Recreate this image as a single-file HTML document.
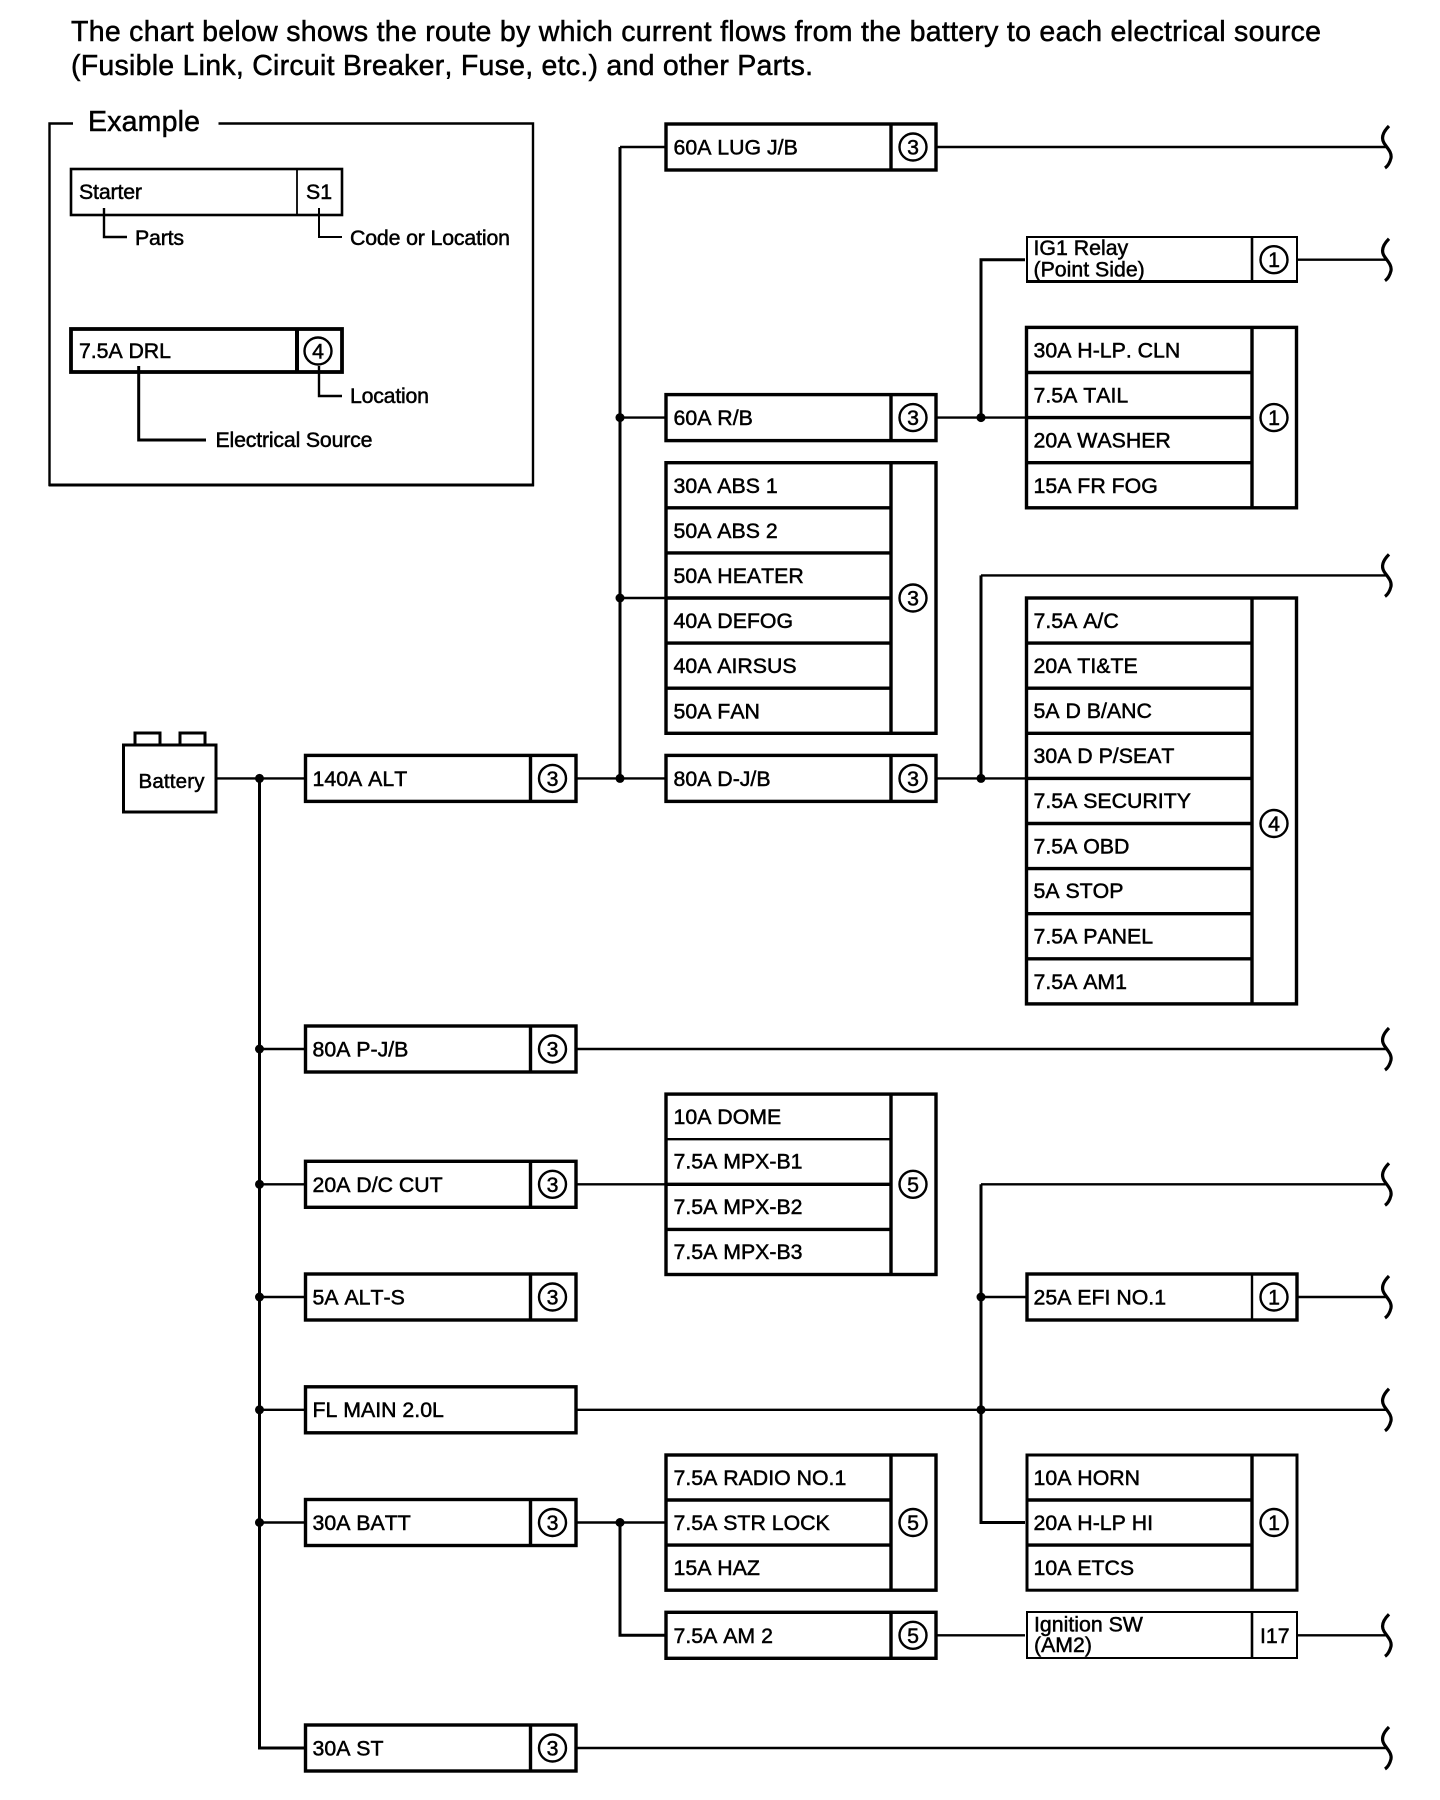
<!DOCTYPE html>
<html><head><meta charset="utf-8"><title>Power source chart</title>
<style>
html,body{margin:0;padding:0;background:#fff}
svg{display:block}
text{font-family:"Liberation Sans",Arial,sans-serif;font-size:21.3px;font-kerning:none;fill:#000;stroke:#000;stroke-width:.5}
.b{fill:#fff;stroke:#000;stroke-width:3.4}
.l{stroke:#000;stroke-width:2.4;fill:none}
.t{stroke:#000;stroke-width:3.4;fill:none}
.c{fill:#fff;stroke:#000;stroke-width:2.4}
.n{text-anchor:middle}
</style></head><body>
<svg width="1440" height="1800" viewBox="0 0 1440 1800" xmlns="http://www.w3.org/2000/svg">
<defs><path id="w" d="M1389,-21 C1383,-15 1381,-9 1384,-4 C1387,1 1392,5 1391,11 C1390,15 1388,19 1385,21" fill="none" stroke="#000" stroke-width="3.2"/></defs>
<rect width="1440" height="1800" fill="#fff"/>

<text x="71" y="41" style="font-size:28.5px" textLength="1250">The chart below shows the route by which current flows from the battery to each electrical source</text>
<text x="71" y="75" style="font-size:28.5px" textLength="742">(Fusible Link, Circuit Breaker, Fuse, etc.) and other Parts.</text>

<!-- Example -->
<path class="l" d="M73,123.5 H49.5 V485 H533 V123.5 H218.5"/>
<path d="M49,485 H534" stroke="#000" stroke-width="3"/>
<text x="88" y="131" style="font-size:28.5px" textLength="112">Example</text>
<rect x="71" y="169" width="271" height="46" fill="#fff" stroke="#000" stroke-width="2.6"/>
<path d="M297,169 V215" stroke="#000" stroke-width="1.8"/>
<text x="79" y="199" textLength="63">Starter</text>
<text x="306" y="199">S1</text>
<path class="l" d="M104,208 V237 H127"/>
<path class="l" d="M319,208 V237 H342" style="stroke-width:2"/>
<text x="135" y="245" textLength="49">Parts</text>
<text x="350" y="245" textLength="160">Code or Location</text>
<rect x="71" y="329" width="271" height="43" fill="#fff" stroke="#000" stroke-width="3.8"/>
<path d="M297,329 V372" stroke="#000" stroke-width="4"/>
<text x="79" y="358" textLength="92">7.5A DRL</text>
<circle class="c" cx="318" cy="351" r="13.5"/><text class="n" x="318" y="358.5">4</text>
<path class="l" d="M319,366 V396 H342"/>
<text x="350" y="403" textLength="79">Location</text>
<path class="t" d="M138.7,366 V440 H206" style="stroke-width:3"/>
<text x="215.5" y="447" textLength="157">Electrical Source</text>

<!-- Buses and wires -->
<g class="l">
<path d="M217,778.4 H304"/>
<path d="M259.5,1049 H304 M259.5,1184.3 H304 M259.5,1297 H304 M259.5,1409.8 H304 M259.5,1522.5 H304"/>
<path d="M577,778.4 H665 M620,147 H665 M620,417.6 H665 M620,598 H665"/>
<path d="M937,147 H1386 M937,417.6 H1025 M1298,259.7 H1386 M981,575.4 H1386 M937,778.4 H1025"/>
<path d="M577,1049 H1386 M577,1184.3 H665 M981,1184.3 H1386 M981,1297 H1026 M1298,1297 H1386"/>
<path d="M577,1409.8 H1386 M577,1522.5 H665 M620,1635.3 H665 M937,1635.3 H1025 M1298,1635.3 H1386 M577,1748 H1386"/>
</g>
<path class="t" d="M259.5,778.4 V1748 H304" style="stroke-width:3"/>
<path class="t" d="M620,147 V778.4" style="stroke-width:3"/>
<path class="t" d="M620,1522.5 V1635.3 H665" style="stroke-width:3"/>
<path class="t" d="M1025,259.7 H981 V417.6" style="stroke-width:3"/>
<path class="t" d="M981,575.4 V778.4" style="stroke-width:3"/>
<path class="t" d="M981,1184.3 V1522.5 H1025" style="stroke-width:3"/>
<g fill="#000">
<circle cx="259.5" cy="778.4" r="4.5"/><circle cx="259.5" cy="1049" r="4.5"/><circle cx="259.5" cy="1184.3" r="4.5"/><circle cx="259.5" cy="1297" r="4.5"/><circle cx="259.5" cy="1409.8" r="4.5"/><circle cx="259.5" cy="1522.5" r="4.5"/>
<circle cx="620" cy="417.6" r="4.5"/><circle cx="620" cy="598" r="4.5"/><circle cx="620" cy="778.4" r="4.5"/><circle cx="620" cy="1522.5" r="4.5"/>
<circle cx="981" cy="417.6" r="4.5"/><circle cx="981" cy="778.4" r="4.5"/><circle cx="981" cy="1297" r="4.5"/><circle cx="981" cy="1409.8" r="4.5"/>
</g>
<use href="#w" y="147"/><use href="#w" y="259.7"/><use href="#w" y="575.4"/><use href="#w" y="1049"/><use href="#w" y="1184.3"/><use href="#w" y="1297"/><use href="#w" y="1409.8"/><use href="#w" y="1635.3"/><use href="#w" y="1748"/>

<!-- Battery -->
<rect x="135" y="733" width="25" height="12" fill="#fff" stroke="#000" stroke-width="3"/>
<rect x="180" y="733" width="25" height="12" fill="#fff" stroke="#000" stroke-width="3"/>
<rect x="123.5" y="745" width="92.5" height="67" fill="#fff" stroke="#000" stroke-width="3"/>
<text x="138.5" y="788" style="font-size:20.5px" textLength="66">Battery</text>

<!-- Column 1 -->
<rect class="b" x="305.5" y="755.4" width="270.5" height="46"/><path class="t" d="M530.5,755.4 V801.4"/>
<circle class="c" cx="552.5" cy="778.4" r="13.5"/><text class="n" x="552.5" y="786">3</text><text x="312.5" y="786">140A ALT</text>
<rect class="b" x="305.5" y="1026" width="270.5" height="46"/><path class="t" d="M530.5,1026 V1072"/>
<circle class="c" cx="552.5" cy="1049" r="13.5"/><text class="n" x="552.5" y="1056.5">3</text><text x="312.5" y="1056.5">80A P-J/B</text>
<rect class="b" x="305.5" y="1161.3" width="270.5" height="46"/><path class="t" d="M530.5,1161.3 V1207.3"/>
<circle class="c" cx="552.5" cy="1184.3" r="13.5"/><text class="n" x="552.5" y="1191.8">3</text><text x="312.5" y="1191.8">20A D/C CUT</text>
<rect class="b" x="305.5" y="1274" width="270.5" height="46"/><path class="t" d="M530.5,1274 V1320"/>
<circle class="c" cx="552.5" cy="1297" r="13.5"/><text class="n" x="552.5" y="1304.6">3</text><text x="312.5" y="1304.6">5A ALT-S</text>
<rect class="b" x="305.5" y="1386.8" width="270.5" height="46"/><text x="312.5" y="1417">FL MAIN 2.0L</text>
<rect class="b" x="305.5" y="1499.5" width="270.5" height="46"/><path class="t" d="M530.5,1499.5 V1545.5"/>
<circle class="c" cx="552.5" cy="1522.5" r="13.5"/><text class="n" x="552.5" y="1530">3</text><text x="312.5" y="1530">30A BATT</text>
<rect class="b" x="305.5" y="1725" width="270.5" height="46"/><path class="t" d="M530.5,1725 V1771"/>
<circle class="c" cx="552.5" cy="1748" r="13.5"/><text class="n" x="552.5" y="1755.6">3</text><text x="312.5" y="1755.6">30A ST</text>

<!-- Column 2 -->
<rect class="b" x="666" y="124" width="270" height="46"/><path class="t" d="M891,124 V170"/>
<circle class="c" cx="913" cy="147" r="13.5"/><text class="n" x="913" y="154.5">3</text><text x="673.5" y="154.5">60A LUG J/B</text>
<rect class="b" x="666" y="394.6" width="270" height="46"/><path class="t" d="M891,394.6 V440.6"/>
<circle class="c" cx="913" cy="417.6" r="13.5"/><text class="n" x="913" y="425">3</text><text x="673.5" y="425">60A R/B</text>
<rect class="b" x="666" y="462.7" width="270" height="270.6"/>
<path class="t" d="M891,462.7 V733.3 M666,507.8 H891 M666,552.9 H891 M666,598 H891 M666,643.1 H891 M666,688.2 H891"/>
<circle class="c" cx="913" cy="598" r="13.5"/><text class="n" x="913" y="605.5">3</text>
<text x="673.5" y="492.8">30A ABS 1</text><text x="673.5" y="537.9">50A ABS 2</text><text x="673.5" y="583">50A HEATER</text><text x="673.5" y="628">40A DEFOG</text><text x="673.5" y="673.2">40A AIRSUS</text><text x="673.5" y="718.3">50A FAN</text>
<rect class="b" x="666" y="755.4" width="270" height="46"/><path class="t" d="M891,755.4 V801.4"/>
<circle class="c" cx="913" cy="778.4" r="13.5"/><text class="n" x="913" y="786">3</text><text x="673.5" y="786">80A D-J/B</text>
<rect class="b" x="666" y="1094.1" width="270" height="180.4"/>
<path class="t" d="M891,1094.1 V1274.5 M666,1184.3 H891 M666,1229.4 H891"/><path class="l" d="M666,1139.2 H891"/>
<circle class="c" cx="913" cy="1184.3" r="13.5"/><text class="n" x="913" y="1191.8">5</text>
<text x="673.5" y="1124">10A DOME</text><text x="673.5" y="1168.5">7.5A MPX-B1</text><text x="673.5" y="1214">7.5A MPX-B2</text><text x="673.5" y="1259">7.5A MPX-B3</text>
<rect class="b" x="666" y="1455" width="270" height="135.2"/>
<path class="t" d="M891,1455 V1590.2 M666,1500 H891 M666,1545.1 H891"/>
<circle class="c" cx="913" cy="1522.5" r="13.5"/><text class="n" x="913" y="1530">5</text>
<text x="673.5" y="1485">7.5A RADIO NO.1</text><text x="673.5" y="1530">7.5A STR LOCK</text><text x="673.5" y="1575.2">15A HAZ</text>
<rect class="b" x="666" y="1612.3" width="270" height="46"/><path class="t" d="M891,1612.3 V1658.3"/>
<circle class="c" cx="913" cy="1635.3" r="13.5"/><text class="n" x="913" y="1642.8">5</text><text x="673.5" y="1642.8">7.5A AM 2</text>

<!-- Column 3 -->
<rect x="1027" y="237" width="270" height="45" fill="#fff" stroke="#000" stroke-width="2"/><path d="M1252,237 V282" stroke="#000" stroke-width="2.6"/><path d="M1027,281.5 H1297" stroke="#000" stroke-width="3"/>
<circle class="c" cx="1274" cy="259.7" r="13.5"/><text class="n" x="1274" y="267">1</text>
<text x="1033.5" y="255">IG1 Relay</text><text x="1033.5" y="276.5">(Point Side)</text>
<rect class="b" x="1026.5" y="327.4" width="270" height="180.4"/>
<path class="t" d="M1252,327.4 V507.8 M1026.5,372.5 H1252 M1026.5,417.6 H1252 M1026.5,462.7 H1252"/>
<circle class="c" cx="1274" cy="417.6" r="13.5"/><text class="n" x="1274" y="425">1</text>
<text x="1033.5" y="357.5">30A H-LP. CLN</text><text x="1033.5" y="402.6">7.5A TAIL</text><text x="1033.5" y="447.7">20A WASHER</text><text x="1033.5" y="492.8">15A FR FOG</text>
<rect class="b" x="1026.5" y="598" width="270" height="405.9"/>
<path class="t" d="M1252,598 V1003.9 M1026.5,643.1 H1252 M1026.5,688.2 H1252 M1026.5,733.3 H1252 M1026.5,778.4 H1252 M1026.5,823.5 H1252 M1026.5,868.6 H1252 M1026.5,913.7 H1252 M1026.5,958.8 H1252"/>
<circle class="c" cx="1274" cy="823.5" r="13.5"/><text class="n" x="1274" y="831">4</text>
<text x="1033.5" y="628">7.5A A/C</text><text x="1033.5" y="673">20A TI&amp;TE</text><text x="1033.5" y="718">5A D B/ANC</text><text x="1033.5" y="763">30A D P/SEAT</text><text x="1033.5" y="808">7.5A SECURITY</text><text x="1033.5" y="853.5">7.5A OBD</text><text x="1033.5" y="898">5A STOP</text><text x="1033.5" y="943.5">7.5A PANEL</text><text x="1033.5" y="988.9">7.5A AM1</text>
<rect class="b" x="1027" y="1274" width="270" height="46"/><path class="l" d="M1252,1274 V1320"/>
<circle class="c" cx="1274" cy="1297" r="13.5"/><text class="n" x="1274" y="1304.6">1</text><text x="1033.5" y="1304.6">25A EFI NO.1</text>
<rect class="b" x="1027" y="1455" width="270" height="135.2" style="stroke-width:3"/>
<path class="t" d="M1252,1455 V1590.2 M1027,1500 H1252 M1027,1545.1 H1252"/>
<circle class="c" cx="1274" cy="1522.5" r="13.5"/><text class="n" x="1274" y="1530">1</text>
<text x="1033.5" y="1485">10A HORN</text><text x="1033.5" y="1530">20A H-LP HI</text><text x="1033.5" y="1575.2">10A ETCS</text>
<rect x="1027" y="1612" width="270" height="46" fill="#fff" stroke="#000" stroke-width="2"/><path d="M1252,1612 V1658" stroke="#000" stroke-width="2.6"/>
<text x="1034" y="1631.7">Ignition SW</text><text x="1034" y="1652">(AM2)</text><text x="1260" y="1642.8">I17</text>
</svg>
</body></html>
